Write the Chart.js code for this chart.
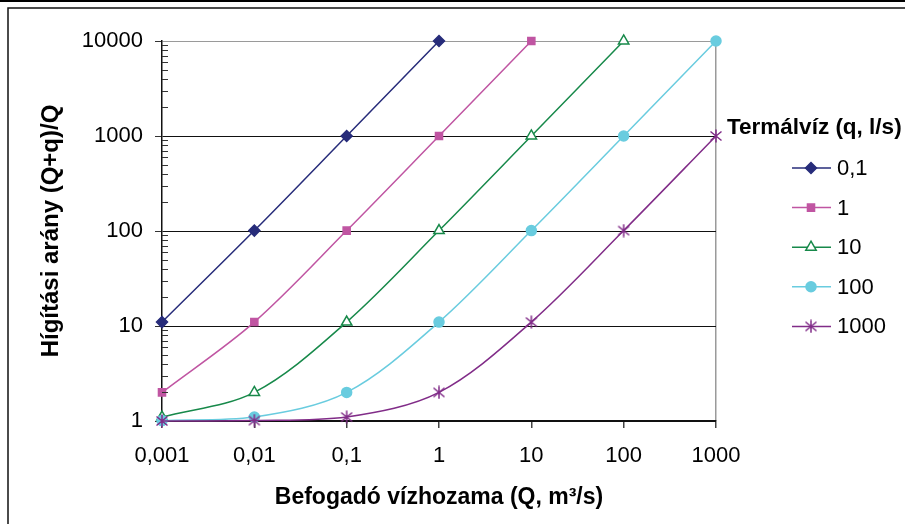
<!DOCTYPE html>
<html>
<head>
<meta charset="utf-8">
<script src="https://cdn.jsdelivr.net/npm/chart.js@4"></script>
<style>
  html, body { margin: 0; padding: 0; background: #fff; }
  canvas { display: block; }
</style>
</head>
<body>
<canvas id="dilutionChart" width="905" height="524"></canvas>
<script>
// Befogadó vízhozama (Q, m3/s) - x values and their tick labels
const flowValues = [0.001, 0.01, 0.1, 1, 10, 100, 1000];
const flowLabels = ['0,001', '0,01', '0,1', '1', '10', '100', '1000'];
const ratioTicks = [1, 10, 100, 1000, 10000];

// Hígítási arány per termálvíz hozam (q, l/s), aligned with flowValues
const seriesNames = ['0,1', '1', '10', '100', '1000'];
const ratio01 = [11, 101, 1001, 10001, null, null, null];
const ratio1 = [2, 11, 101, 1001, 10001, null, null];
const ratio10 = [1.1, 2, 11, 101, 1001, 10001, null];
const ratio100 = [1.01, 1.1, 2, 11, 101, 1001, 10001];
const ratio1000 = [1.001, 1.01, 1.1, 2, 11, 101, 1001];

const FONT = '"Liberation Sans", Arial, sans-serif';

// excel style asterisk marker (vertical bar + X)
function starMarker(color) {
    const c = document.createElement('canvas');
    c.width = 14; c.height = 14;
    const g = c.getContext('2d');
    g.strokeStyle = color;
    g.lineWidth = 1.5;
    g.beginPath();
    g.moveTo(7, 0.5); g.lineTo(7, 13.5);
    g.moveTo(1.5, 2.5); g.lineTo(12.5, 11.5);
    g.moveTo(12.5, 2.5); g.lineTo(1.5, 11.5);
    g.stroke();
    return c;
}

function toPoints(vals) {
    return flowValues.map((x, i) => ({ x: x, y: vals[i] })).filter(p => p.y !== null);
}

const seriesStyles = [
    { color: '#272C7A', marker: 'rectRot', radius: 5.5, fill: '#272C7A' },
    { color: '#C055A2', marker: 'rect', radius: 5, fill: '#C055A2' },
    { color: '#17894A', marker: 'triangle', radius: 6, fill: '#ffffff' },
    { color: '#69CCDF', marker: 'circle', radius: 5, fill: '#69CCDF' },
    { color: '#812C88', marker: starMarker('#812C88'), radius: 6, fill: '#812C88' }
];

const allSeries = [ratio01, ratio1, ratio10, ratio100, ratio1000];

const datasets = allSeries.map((vals, i) => {
    const st = seriesStyles[i];
    return {
        label: seriesNames[i],
        data: toPoints(vals),
        showLine: true,
        borderColor: st.color,
        borderWidth: 1.5,
        tension: 0.33,
        pointStyle: st.marker,
        pointRadius: st.radius,
        pointBackgroundColor: st.fill,
        pointBorderColor: st.color,
        pointBorderWidth: 1.5,
        clip: false,
        order: 4 - i
    };
});

// outer frame of the chart object
const framePlugin = {
    id: 'frame',
    beforeDraw(chart) {
        const ctx = chart.ctx;
        ctx.save();
        ctx.fillStyle = '#fff';
        ctx.fillRect(0, 0, chart.width, chart.height);
        ctx.fillStyle = '#000';
        ctx.fillRect(0, 0, chart.width, 2);
        ctx.strokeStyle = '#111';
        ctx.lineWidth = 1.5;
        ctx.beginPath();
        ctx.moveTo(8, chart.height);
        ctx.lineTo(8, 8);
        ctx.lineTo(chart.width, 8);
        ctx.stroke();
        ctx.restore();
    }
};

// minor ticks on the inside of the y axis
const minorTicksPlugin = {
    id: 'minorTicks',
    afterDatasetsDraw(chart) {
        const ctx = chart.ctx;
        const ys = chart.scales.y;
        const left = chart.chartArea.left;
        ctx.save();
        ctx.strokeStyle = '#333';
        ctx.lineWidth = 1;
        ctx.beginPath();
        for (let d = 1; d < 10000; d *= 10) {
            for (let m = 2; m <= 9; m++) {
                const y = Math.round(ys.getPixelForValue(d * m)) + 0.5;
                ctx.moveTo(left, y);
                ctx.lineTo(left + 6, y);
            }
        }
        ctx.stroke();
        ctx.restore();
    }
};

// legend on the right: line + marker + text
const legendPlugin = {
    id: 'sideLegend',
    afterDraw(chart) {
        const ctx = chart.ctx;
        ctx.save();
        ctx.fillStyle = '#000';
        ctx.textBaseline = 'middle';
        ctx.font = 'bold 22.5px ' + FONT;
        ctx.fillText('Termálvíz (q, l/s)', 727, 128);
        ctx.font = '22px ' + FONT;
        chart.data.datasets.forEach((ds, i) => {
            const y = 168 + i * 39.6;
            ctx.strokeStyle = ds.borderColor;
            ctx.lineWidth = ds.borderWidth;
            ctx.beginPath();
            ctx.moveTo(792, y);
            ctx.lineTo(831, y);
            ctx.stroke();
            ctx.fillStyle = ds.pointBackgroundColor;
            ctx.strokeStyle = ds.pointBorderColor;
            ctx.lineWidth = ds.pointBorderWidth;
            Chart.helpers.drawPoint(ctx, {
                pointStyle: ds.pointStyle,
                radius: ds.pointRadius,
                borderWidth: ds.pointBorderWidth,
                rotation: 0
            }, 811, y);
            ctx.fillStyle = '#000';
            ctx.fillText(ds.label, 837, y + 1);
        });
        ctx.restore();
    }
};

const ctx = document.getElementById('dilutionChart').getContext('2d');

new Chart(ctx, {
    type: 'scatter',
    data: { datasets: datasets },
    options: {
        responsive: false,
        animation: false,
        layout: { padding: { top: 41, right: 189, left: 0, bottom: 0 } },
        plugins: {
            legend: { display: false },
            tooltip: { enabled: false }
        },
        scales: {
            x: {
                type: 'logarithmic',
                min: 0.001,
                max: 1000,
                afterBuildTicks: s => { s.ticks = flowValues.map(v => ({ value: v })); },
                afterFit: s => { s.height = 103; },
                ticks: {
                    callback: v => flowLabels[flowValues.indexOf(v)],
                    autoSkip: false,
                    maxRotation: 0,
                    padding: 15,
                    color: '#000',
                    font: { family: FONT, size: 22 }
                },
                grid: {
                    color: c => (c.tick && c.tick.value === 1000) ? '#9a9a9a' : 'rgba(0,0,0,0)',
                    tickColor: '#444',
                    tickLength: 7,
                    lineWidth: 1.5
                },
                border: { color: '#111', width: 1.5 },
                title: {
                    display: true,
                    text: 'Befogadó vízhozama (Q, m³/s)',
                    color: '#000',
                    font: { family: FONT, size: 23, weight: 'bold' },
                    padding: { top: 0, bottom: 13 }
                }
            },
            y: {
                type: 'logarithmic',
                min: 1,
                max: 10000,
                afterBuildTicks: s => { s.ticks = ratioTicks.map(v => ({ value: v })); },
                afterFit: s => { s.width = 162; },
                ticks: {
                    callback: v => String(v),
                    padding: 12,
                    color: '#000',
                    font: { family: FONT, size: 22 }
                },
                grid: {
                    color: c => (c.tick && c.tick.value === 10000) ? '#9a9a9a' : '#111',
                    tickColor: '#333',
                    tickLength: 7,
                    lineWidth: 1
                },
                border: { color: '#111', width: 1.5 },
                title: {
                    display: true,
                    text: 'Hígítási arány (Q+q)/Q',
                    color: '#000',
                    font: { family: FONT, size: 24, weight: 'bold' },
                    padding: { top: 37, bottom: 0 }
                }
            }
        }
    },
    plugins: [framePlugin, minorTicksPlugin, legendPlugin]
});
</script>
</body>
</html>
